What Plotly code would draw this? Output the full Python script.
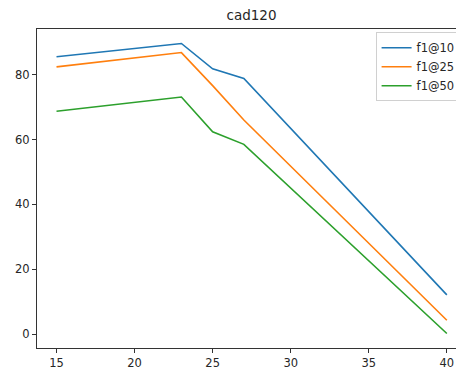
import plotly.graph_objects as go

x_vals = [15, 23, 25, 27, 40]
f1_10 = [85.5, 89.6, 81.8, 78.8, 12.1]
f1_25 = [82.4, 86.8, 76.6, 66.0, 4.3]
f1_50 = [68.7, 73.1, 62.4, 58.5, 0.2]
series_names = ["f1@10", "f1@25", "f1@50"]
colors = ["#1f77b4", "#ff7f0e", "#2ca02c"]
x_ticks = [15, 20, 25, 30, 35, 40]
y_ticks = [0, 20, 40, 60, 80]

fig = go.Figure()
for name, ys, c in zip(series_names, [f1_10, f1_25, f1_50], colors):
    fig.add_trace(go.Scatter(x=x_vals, y=ys, mode="lines", name=name,
                             line=dict(color=c, width=1.6)))

# page body has an 8px margin, so the figure is 8px smaller and shifted
W, H = 456, 361
axis_font = dict(family="DejaVu Sans", size=11.5, color="#262626")
fig.update_layout(
    width=W, height=H,
    margin=dict(l=29, r=0, t=21, b=21, autoexpand=False),
    paper_bgcolor="white", plot_bgcolor="white",
    title=dict(text="cad120", x=243.5 / W, xanchor="center", y=1 - 7.5 / H, yanchor="middle",
               font=dict(family="DejaVu Sans", size=13.5, color="#262626")),
    showlegend=True,
    legend=dict(x=0.992, xanchor="right", y=0.99, yanchor="top",
                bordercolor="#d0d0d0", borderwidth=1, bgcolor="white",
                font=dict(family="DejaVu Sans", size=11.5, color="#262626"),
                itemwidth=30, tracegroupgap=0),
    xaxis=dict(range=[13.75, 41.1], tickvals=x_ticks, showgrid=False, zeroline=False,
               showline=True, linecolor="#333333", linewidth=1, mirror=True,
               ticks="outside", ticklen=4, tickcolor="#333333", tickfont=axis_font),
    yaxis=dict(range=[-4.27, 94.07], tickvals=y_ticks, showgrid=False, zeroline=False,
               showline=True, linecolor="#333333", linewidth=1, mirror=False,
               ticks="outside", ticklen=4, tickcolor="#333333", tickfont=axis_font),
)

fig.write_html("out.html")
